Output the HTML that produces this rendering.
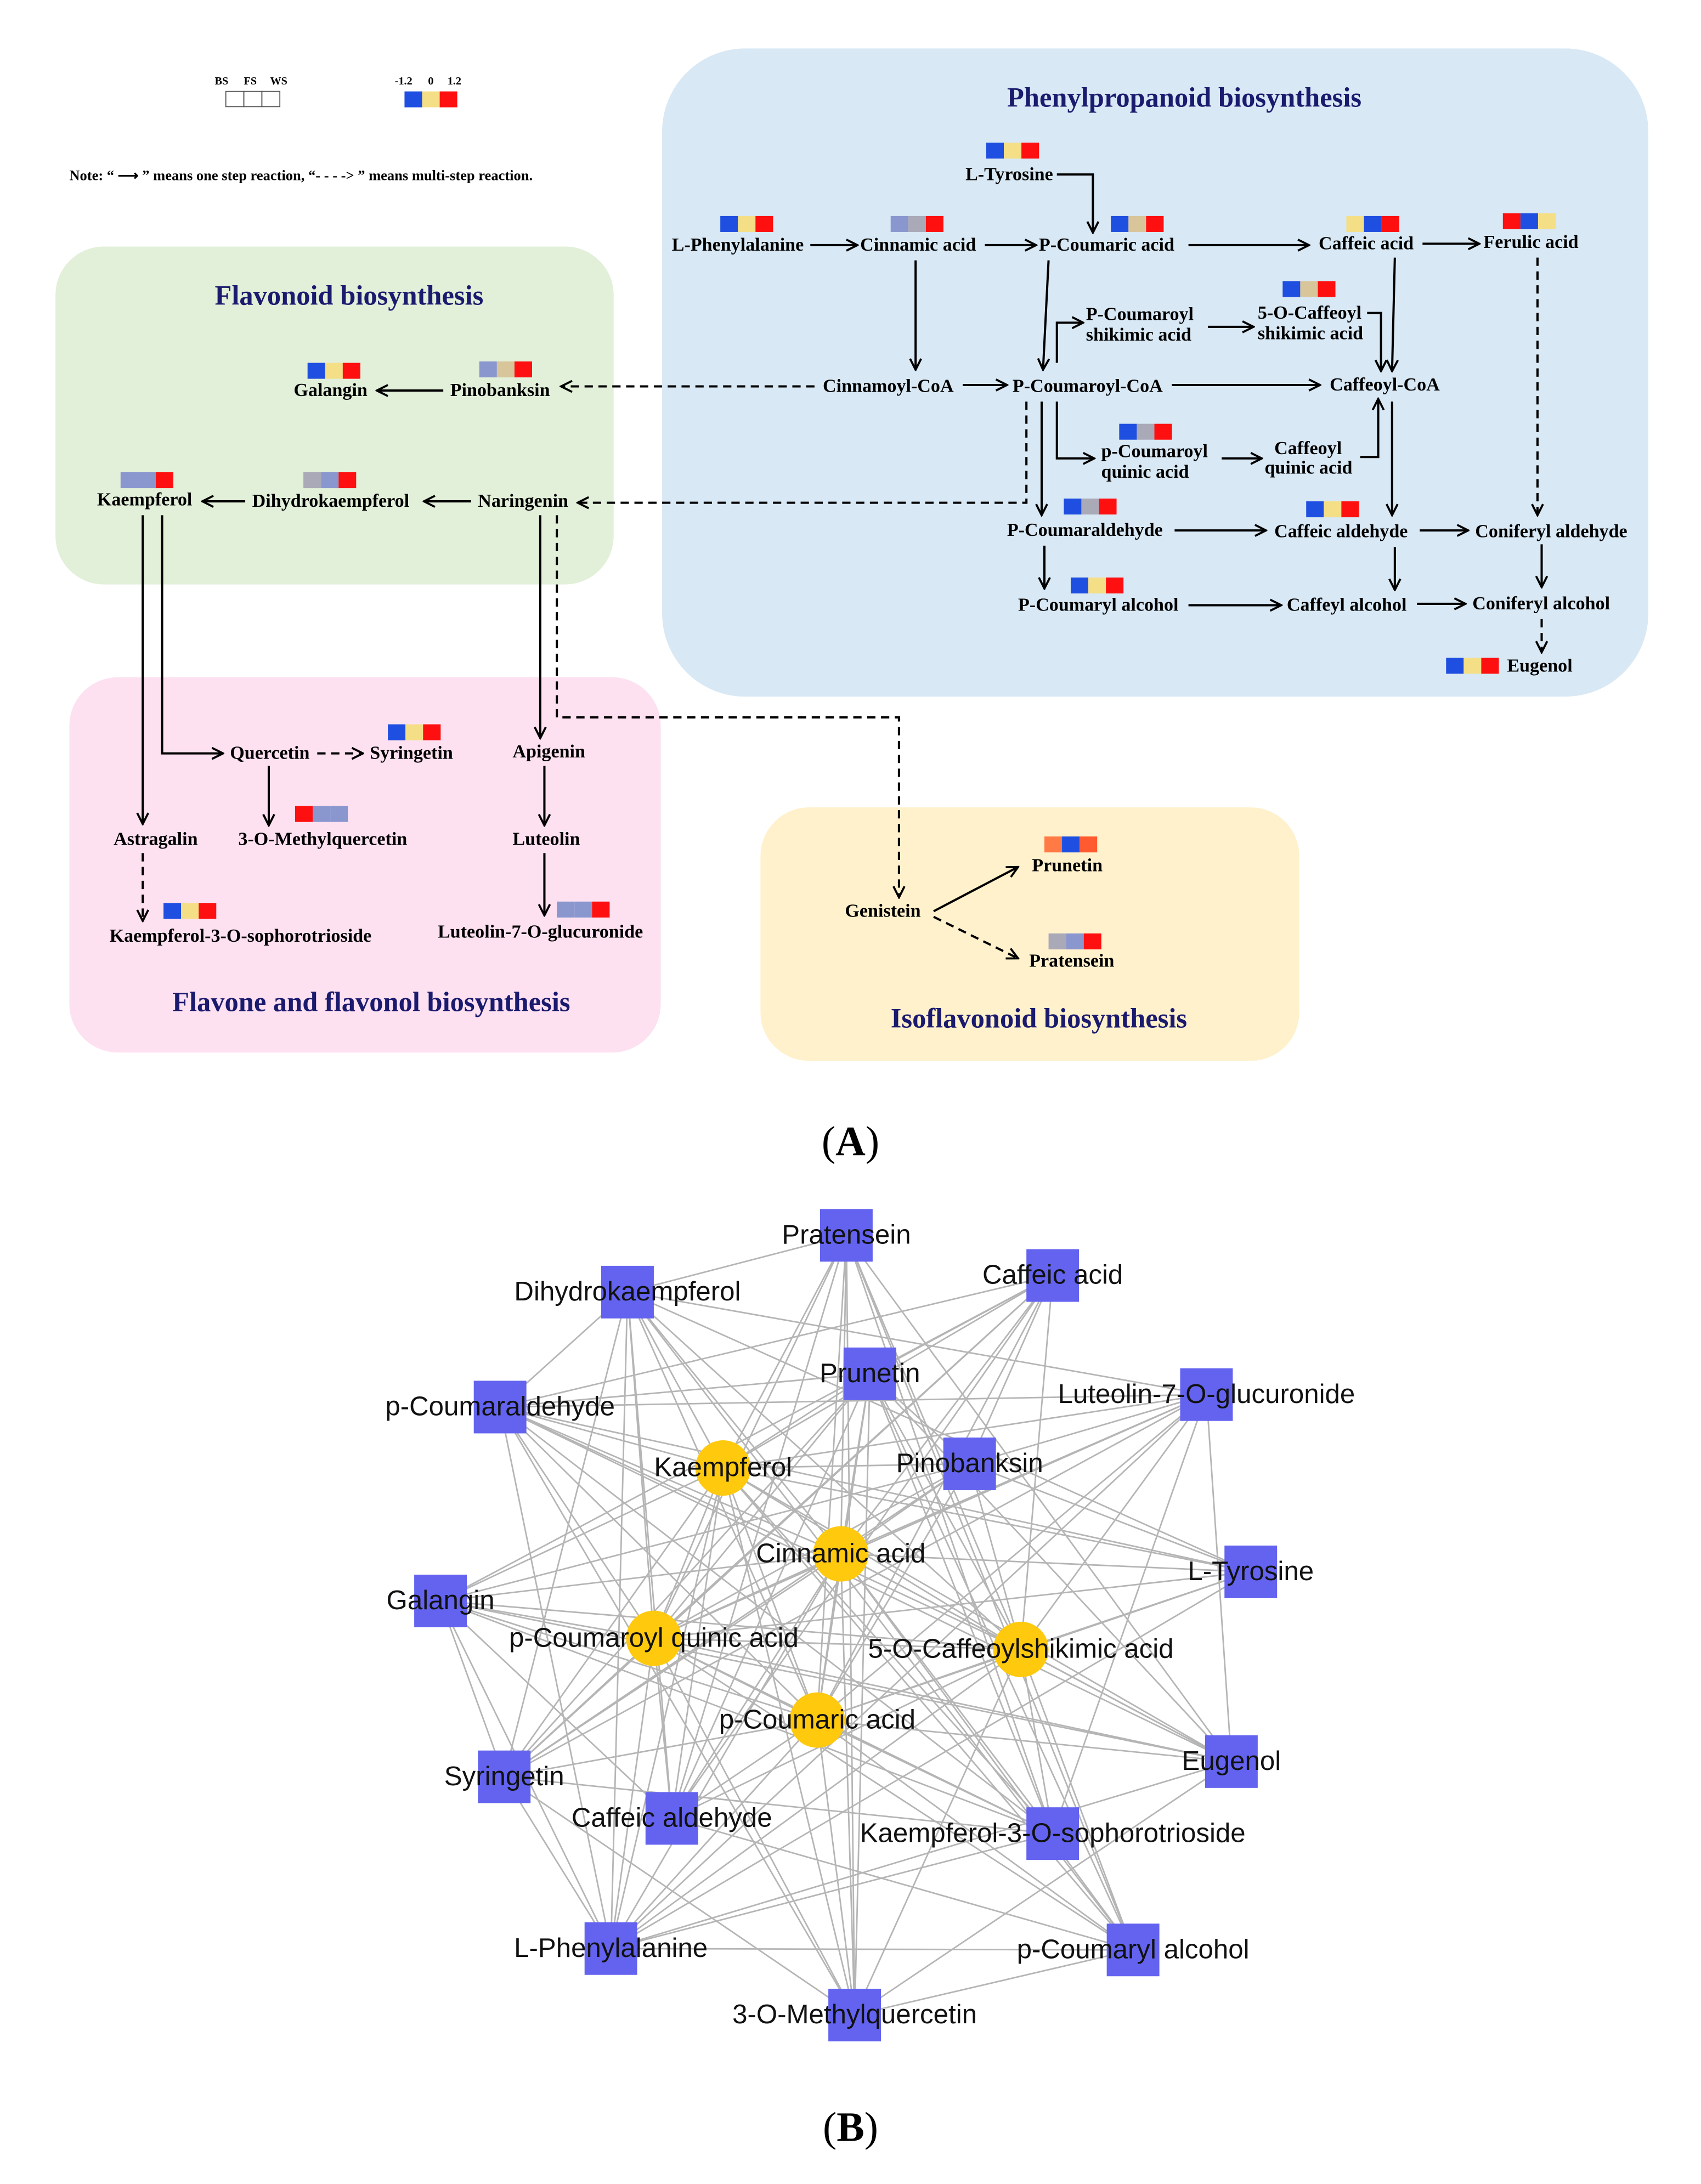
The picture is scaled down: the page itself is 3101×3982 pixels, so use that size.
<!DOCTYPE html>
<html><head><meta charset="utf-8"><style>
html,body{margin:0;padding:0;background:#fff;}
svg{display:block;}
.t{font-family:"Liberation Serif",serif;font-weight:bold;font-size:13.5px;fill:#000;}
.ti{font-family:"Liberation Serif",serif;font-weight:bold;font-size:20px;fill:#1a1a6e;}
.n{font-family:"Liberation Sans",sans-serif;font-size:19.5px;fill:#111;}
.s{stroke:#000;stroke-width:1.6;fill:none;}
.d{stroke:#000;stroke-width:1.6;fill:none;stroke-dasharray:6,4;}
</style></head><body>
<svg id="sv" width="3101" height="3982" viewBox="0 0 1228 1577" xmlns="http://www.w3.org/2000/svg">
<defs><marker id="a" markerWidth="10" markerHeight="10" refX="9" refY="5" orient="auto" markerUnits="userSpaceOnUse"><path d="M1,1 L9,5 L1,9" stroke="#000" stroke-width="1.5" fill="none"/></marker></defs>
<rect width="1228" height="1577" fill="#fff"/>
<rect x="478" y="35" width="712" height="468" rx="60" fill="#d8e8f4"/>
<rect x="40" y="178" width="403" height="244" rx="35" fill="#e2efd9"/>
<rect x="50" y="489" width="427" height="271" rx="35" fill="#fde1f1"/>
<rect x="549" y="583" width="389" height="183" rx="35" fill="#fff1cc"/>
<text class="ti" x="855" y="77" text-anchor="middle">Phenylpropanoid biosynthesis</text>
<text class="ti" x="252" y="220" text-anchor="middle">Flavonoid biosynthesis</text>
<text class="ti" x="268" y="730" text-anchor="middle">Flavone and flavonol biosynthesis</text>
<text class="ti" x="750" y="742" text-anchor="middle">Isoflavonoid biosynthesis</text>
<g style="font-family:'Liberation Serif',serif;font-weight:bold;font-size:8px">
<text x="155" y="61">BS</text><text x="176" y="61">FS</text><text x="195" y="61">WS</text>
<text x="285" y="61">-1.2</text><text x="309" y="61">0</text><text x="323" y="61">1.2</text></g>
<rect x="163" y="66" width="13" height="11" fill="none" stroke="#555" stroke-width="0.7"/>
<rect x="176" y="66" width="13" height="11" fill="none" stroke="#555" stroke-width="0.7"/>
<rect x="189" y="66" width="13" height="11" fill="none" stroke="#555" stroke-width="0.7"/>
<text class="t" x="50" y="130" style="font-size:10.5px">Note: “ ⟶ ” means one step reaction, “- - - -&gt; ” means multi-step reaction.</text>
<g id="strips"></g>
<g class="t">
<text x="697" y="130">L-Tyrosine</text>
<text x="485" y="181">L-Phenylalanine</text>
<text x="621" y="181">Cinnamic acid</text>
<text x="750" y="181">P-Coumaric acid</text>
<text x="952" y="180">Caffeic acid</text>
<text x="1071" y="179">Ferulic acid</text>
<text x="784" y="231">P-Coumaroyl</text><text x="784" y="246">shikimic acid</text>
<text x="908" y="230">5-O-Caffeoyl</text><text x="908" y="245">shikimic acid</text>
<text x="594" y="283">Cinnamoyl-CoA</text>
<text x="731" y="283">P-Coumaroyl-CoA</text>
<text x="960" y="282">Caffeoyl-CoA</text>
<text x="795" y="330">p-Coumaroyl</text><text x="795" y="345">quinic acid</text>
<text x="920" y="328">Caffeoyl</text><text x="913" y="342">quinic acid</text>
<text x="727" y="387">P-Coumaraldehyde</text>
<text x="920" y="388">Caffeic aldehyde</text>
<text x="1065" y="388">Coniferyl aldehyde</text>
<text x="735" y="441">P-Coumaryl alcohol</text>
<text x="929" y="441">Caffeyl alcohol</text>
<text x="1063" y="440">Coniferyl alcohol</text>
<text x="1088" y="485">Eugenol</text>
<text x="212" y="286">Galangin</text>
<text x="325" y="286">Pinobanksin</text>
<text x="70" y="365">Kaempferol</text>
<text x="182" y="366">Dihydrokaempferol</text>
<text x="345" y="366">Naringenin</text>
<text x="166" y="548">Quercetin</text>
<text x="267" y="548">Syringetin</text>
<text x="172" y="610">3-O-Methylquercetin</text>
<text x="82" y="610">Astragalin</text>
<text x="79" y="680">Kaempferol-3-O-sophorotrioside</text>
<text x="370" y="547">Apigenin</text>
<text x="370" y="610">Luteolin</text>
<text x="316" y="677">Luteolin-7-O-glucuronide</text>
<text x="610" y="662">Genistein</text>
<text x="745" y="629">Prunetin</text>
<text x="743" y="698">Pratensein</text>
</g>
<g marker-end="url(#a)">
<path class="s" d="M763,126 H789 V168"/>
<path class="s" d="M585,177 H619"/>
<path class="s" d="M711,177 H748"/>
<path class="s" d="M858,177 H945"/>
<path class="s" d="M1027,176 H1068"/>
<path class="s" d="M661,188 V267"/>
<path class="s" d="M695,278 H727"/>
<path class="s" d="M757,188 L753,267"/>
<path class="s" d="M846,278 H953"/>
<path class="s" d="M763,262 V233 H782"/>
<path class="s" d="M872,236 H905"/>
<path class="s" d="M987,226 H997 V268"/>
<path class="s" d="M1007,186 L1005,268"/>
<path class="d" d="M1110,186 V372"/>
<path class="s" d="M763,290 V331 H790"/>
<path class="s" d="M882,331 H911"/>
<path class="s" d="M982,330 H995 V288"/>
<path class="s" d="M1005,290 V372"/>
<path class="s" d="M752,290 V372"/>
<path class="s" d="M848,383 H914"/>
<path class="s" d="M1025,383 H1060"/>
<path class="s" d="M1113,393 V424"/>
<path class="s" d="M754,394 V425"/>
<path class="s" d="M858,437 H925"/>
<path class="s" d="M1007,395 V426"/>
<path class="s" d="M1023,436 H1058"/>
<path class="d" d="M1113,447 V471"/>
<path class="d" d="M588,279 H405"/>
<path class="d" d="M741,290 V363 H417"/>
<path class="s" d="M320,282 H272"/>
<path class="s" d="M340,362 H306"/>
<path class="s" d="M177,362 H146"/>
<path class="s" d="M103,372 V595"/>
<path class="s" d="M117,372 V544 H161"/>
<path class="d" d="M229,544 H262"/>
<path class="s" d="M194,553 V596"/>
<path class="d" d="M103,616 V665"/>
<path class="s" d="M390,372 V533"/>
<path class="d" d="M402,372 V518 H649 V648"/>
<path class="s" d="M393,553 V596"/>
<path class="s" d="M393,616 V661"/>
<path class="s" d="M674,658 L735,626"/>
<path class="d" d="M674,662 L735,692"/>
</g>
<text x="614" y="834" text-anchor="middle" style="font-family:'Liberation Serif',serif;font-size:30px">(<tspan font-weight="bold">A</tspan>)</text>
<text x="614" y="1546" text-anchor="middle" style="font-family:'Liberation Serif',serif;font-size:30px">(<tspan font-weight="bold">B</tspan>)</text>
<g id="edges" stroke="#b5b5b5" stroke-width="1.1"></g>
<g id="nodes"></g>
<g id="labels" class="n"></g>
</svg>
<script>
var NS="http://www.w3.org/2000/svg";
function el(t,a,p){var e=document.createElementNS(NS,t);for(var k in a)e.setAttribute(k,a[k]);p.appendChild(e);return e;}
var C={b:"#1f4fe0",y:"#f4df86",r:"#ff1010",g:"#8a97cf",h:"#a9a9b8",t:"#d8c59a",o:"#ff7a45",o2:"#ff5a30"};
var S=[[292,66,"byr"],[712,103,"byr"],[520,156,"byr"],[643,156,"ghr"],[802,156,"btr"],[972,156,"ybr"],[1085,154,"rby"],[926,203,"btr"],[808,306,"bhr"],[768,360,"bhr"],[943,362,"byr"],[773,417,"byr"],[1044,475,"byr"],[222,262,"byr"],[346,261,"gtr"],[87,341,"ggr"],[219,341,"hgr"],[280,523,"byr"],[213,582,"rgg"],[118,652,"byr"],[402,651,"ggr"],[754,604,"obx"],[757,674,"hgr"]];
var sg=document.getElementById("strips");
S.forEach(function(s){for(var i=0;i<3;i++){var c=s[2][i];var col=c=="x"?C.o2:C[c];el("rect",{x:s[0]+i*12.7,y:s[1],width:12.7,height:11.5,fill:col},sg);}});
var N=[["Pratensein",611,892,0],["Caffeic acid",760,921,0],["Dihydrokaempferol",453,933,0],["Prunetin",628,992,0],["Luteolin-7-O-glucuronide",871,1007,0],["p-Coumaraldehyde",361,1016,0],["Pinobanksin",700,1057,0],["L-Tyrosine",903,1135,0],["Galangin",318,1156,0],["Eugenol",889,1272,0],["Syringetin",364,1283,0],["Caffeic aldehyde",485,1313,0],["Kaempferol-3-O-sophorotrioside",760,1324,0],["L-Phenylalanine",441,1407,0],["p-Coumaryl alcohol",818,1408,0],["3-O-Methylquercetin",617,1455,0],["Kaempferol",522,1060,1],["Cinnamic acid",607,1122,1],["p-Coumaroyl quinic acid",472,1183,1],["5-O-Caffeoylshikimic acid",737,1191,1],["p-Coumaric acid",590,1242,1]];
var eg=document.getElementById("edges"),ng=document.getElementById("nodes"),lg=document.getElementById("labels");
var seed=7;function rnd(){seed=(seed*1103515245+12345)%2147483648;return seed/2147483648;}
for(var i=0;i<N.length;i++)for(var j=i+1;j<N.length;j++){
 var p=(N[i][3]||N[j][3])?0.95:0.5;
 if(rnd()<p)el("line",{x1:N[i][1],y1:N[i][2],x2:N[j][1],y2:N[j][2]},eg);}
N.forEach(function(n){
 if(n[3])el("circle",{cx:n[1],cy:n[2],r:20,fill:"#ffc90e"},ng);
 else el("rect",{x:n[1]-19,y:n[2]-19,width:38,height:38,fill:"#6363f0"},ng);
 var t=el("text",{x:n[1],y:n[2]+6,"text-anchor":"middle"},lg);t.textContent=n[0];});
</script>
</body></html>
